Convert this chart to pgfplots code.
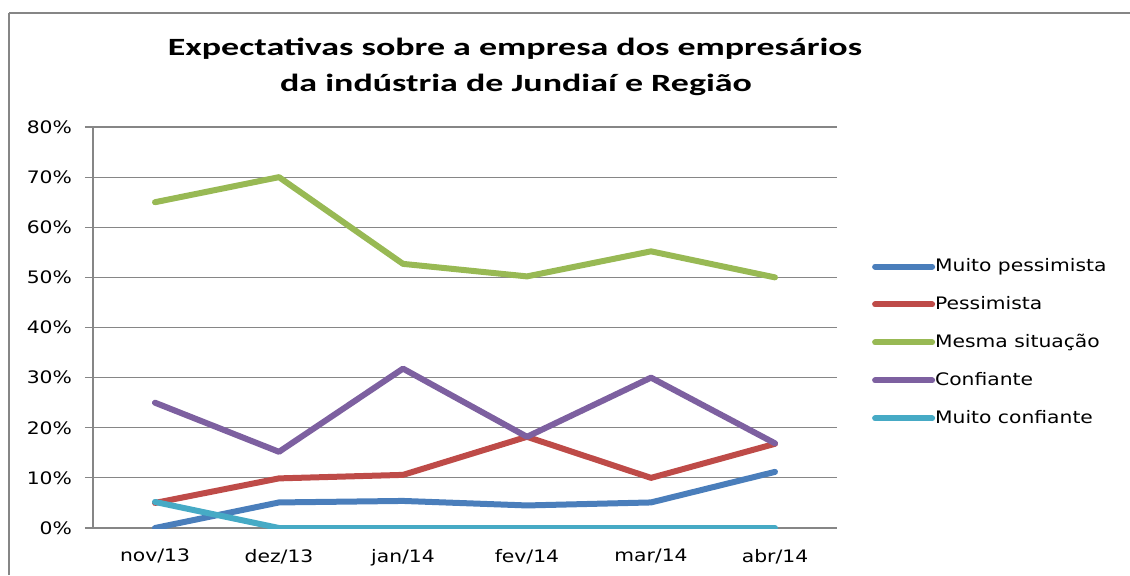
\documentclass[border=0pt]{standalone}
\usepackage{fontspec}
\usepackage{pgfplots}
\pgfplotsset{compat=1.18}
\usetikzlibrary{calc}
\setmainfont{DejaVu Sans}
\newfontfamily\lab[FakeStretch=1.18]{DejaVu Sans}
\newfontfamily\ttl[FakeStretch=1.45]{Carlito}
\definecolor{cblue}{HTML}{4A7EBB}
\definecolor{cred}{HTML}{BE4B48}
\definecolor{cgreen}{HTML}{98B954}
\definecolor{cpurple}{HTML}{7D60A0}
\definecolor{ccyan}{HTML}{46AAC5}
\definecolor{gridgray}{HTML}{868686}
\begin{document}
\begin{tikzpicture}[x=1pt,y=1pt]
\begin{axis}[
  scale only axis, width=372pt, height=200.5pt,
  xmin=-0.5, xmax=5.5, ymin=0, ymax=80,
  axis x line*=bottom, axis y line*=left,
  axis line style={gridgray, line width=0.6pt, -},
  xtick={0,1,2,3,4,5},
  xticklabels={nov/13,dez/13,jan/14,fev/14,mar/14,abr/14},
  minor xtick={-0.5,0.5,1.5,2.5,3.5,4.5,5.5},
  xtick style={draw=none},
  minor tick style={gridgray, line width=0.6pt},
  ytick style={gridgray, line width=0.6pt},
  tick align=outside,
  major tick length=4pt, minor tick length=3.5pt,
  ytick={0,10,...,80},
  yticklabels={0\%,10\%,20\%,30\%,40\%,50\%,60\%,70\%,80\%},
  ymajorgrids, grid style={gridgray, line width=0.6pt},
  tick label style={font=\lab\fontsize{8.6}{10}\selectfont, text=black},
  xticklabel style={yshift=-3pt},
  yticklabel style={xshift=-3pt},
  legend style={draw=none, fill=none, at={(1.0386,0.683)}, anchor=north west,
    font=\lab\fontsize{8.6}{10}\selectfont, row sep=10.9pt,
    nodes={inner sep=0pt}},
  legend cell align=left,
  legend image code/.code={\draw[#1, line width=3pt, line cap=round] (0pt,0pt) -- (28.5pt,0pt);},
  every axis plot/.append style={line width=3pt, line cap=round, line join=round, mark=none},
]
\coordinate (O) at (rel axis cs:0,0);
\addplot[cblue] coordinates {(0,0) (1,5.1) (2,5.4) (3,4.5) (4,5.1) (5,11.2)};
\addlegendentry{Muito pessimista}
\addplot[cred] coordinates {(0,5) (1,9.9) (2,10.6) (3,18.2) (4,10) (5,16.8)};
\addlegendentry{Pessimista}
\addplot[cgreen] coordinates {(0,65) (1,70) (2,52.7) (3,50.2) (4,55.2) (5,50)};
\addlegendentry{Mesma situação}
\addplot[cpurple] coordinates {(0,25) (1,15.2) (2,31.8) (3,18.2) (4,30) (5,16.9)};
\addlegendentry{Confiante}
\addplot[ccyan] coordinates {(0,5.2) (1,0) (2,0) (3,0) (4,0) (5,0)};
\addlegendentry{Muito confiante}
\end{axis}
\coordinate (Z) at ($(O)+(-46.5,-23.5)$);
\useasboundingbox (Z) rectangle ++(565,287.5);
\draw[gridgray, line width=1.2pt] ($(Z)+(4.5,0)$) -- ++(0,281);
\draw[gridgray, line width=0.6pt] ($(Z)+(4.5,281)$) -- ++(560.5,0);
\node[font=\ttl\bfseries\fontsize{12.4}{14}\selectfont] at ($(Z)+(257.5,263)$) {Expectativas sobre a empresa dos empresários};
\node[font=\ttl\bfseries\fontsize{12.4}{14}\selectfont] at ($(Z)+(258,245)$) {da indústria de Jundiaí e Região};
\end{tikzpicture}
\end{document}
